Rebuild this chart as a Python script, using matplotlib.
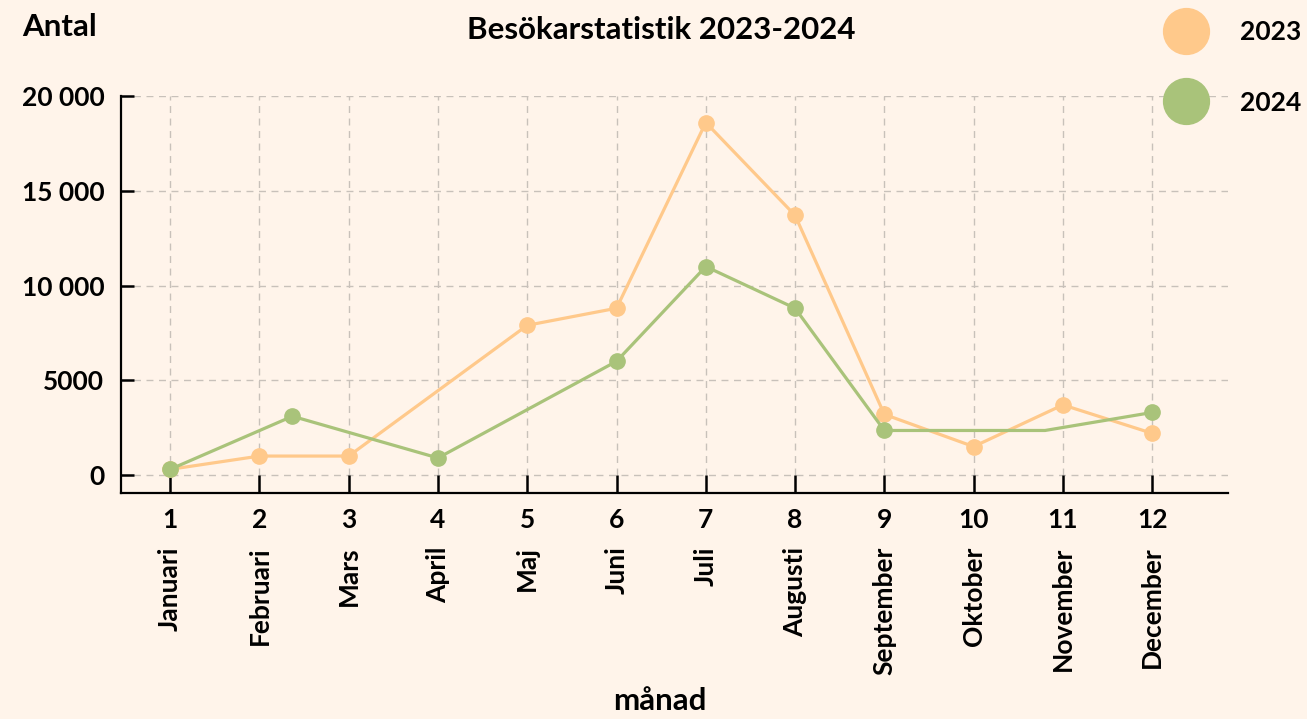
import matplotlib
matplotlib.use('Agg')
import matplotlib.pyplot as plt
from matplotlib.lines import Line2D

plt.rcParams['font.family'] = ['Lato', 'DejaVu Sans']
plt.rcParams['font.weight'] = 'bold'

# data
months = ['Januari', 'Februari', 'Mars', 'April', 'Maj', 'Juni', 'Juli',
          'Augusti', 'September', 'Oktober', 'November', 'December']
month_nums = list(range(1, 13))

x_2023 = [1, 2, 3, 5, 6, 7, 8, 9, 10, 11, 12]
y_2023 = [300, 1000, 1000, 7900, 8800, 18600, 13700, 3200, 1500, 3700, 2200]

x_2024 = [1, 2.37, 4, 6, 7, 8, 9, 10.8, 12]
y_2024 = [300, 3100, 900, 6000, 11000, 8800, 2350, 2350, 3300]
marks_2024 = [0, 1, 2, 3, 4, 5, 6, 8]

y_ticks = [0, 5000, 10000, 15000, 20000]
y_ticklabels = ['0', '5000', '10 000', '15 000', '20 000']

c2023 = '#ffc98b'
c2024 = '#a9c37a'
bg = '#fff4ea'
gridc = '#c8c1ba'

fig = plt.figure(figsize=(13.07, 7.19), dpi=100, facecolor=bg)
ax = fig.add_axes([0.0926, 0.3143, 0.847, 0.5522], facecolor=bg)

ax.set_xlim(0.45, 12.85)
ax.set_ylim(-950, 20000)

# grid
for yv in y_ticks:
    ax.axhline(yv, color=gridc, lw=1, ls=(0, (5, 4)), zorder=0)
ax.vlines(month_nums, 0, 20000, color=gridc, lw=1, linestyles=[(0, (5, 4))], zorder=0)

ax.plot(x_2023, y_2023, color=c2023, lw=2.3, marker='o', ms=11, zorder=3)
ax.plot(x_2024, y_2024, color=c2024, lw=2.3, marker='o', ms=11,
        markevery=marks_2024, zorder=4)

for s in ['top', 'right']:
    ax.spines[s].set_visible(False)
for s in ['left', 'bottom']:
    ax.spines[s].set_linewidth(1.6)
    ax.spines[s].set_color('black')

ax.set_xticks(month_nums)
ax.set_xticklabels([str(m) for m in month_nums])
ax.set_yticks(y_ticks)
ax.set_yticklabels(y_ticklabels)
ax.tick_params(axis='x', direction='in', length=13, width=1.8, pad=11, labelsize=19)
ax.tick_params(axis='y', direction='in', length=9, width=1.8, pad=12, labelsize=19)

for m, name in zip(month_nums, months):
    ax.text(m, -0.135, name, transform=ax.get_xaxis_transform(), rotation=90,
            ha='center', va='top', fontsize=19, fontweight='bold')

fig.text(22 / 1307, 1 - 27 / 719, 'Antal', fontsize=22.5, fontweight='bold',
         ha='left', va='center')
fig.text(661 / 1307, 1 - 30 / 719, 'Besökarstatistik 2023-2024', fontsize=22.5,
         fontweight='bold', ha='center', va='center')
fig.text(660 / 1307, 1 - 701 / 719, 'månad', fontsize=22.5, fontweight='bold',
         ha='center', va='center')

handles = [Line2D([], [], ls='none', marker='o', ms=33, color=c2023),
           Line2D([], [], ls='none', marker='o', ms=33, color=c2024)]
fig.legend(handles, ['2023', '2024'], loc='upper left',
           bbox_to_anchor=(1146 / 1307, 1 - 7 / 719), frameon=False,
           borderpad=0, handlelength=2, handletextpad=1.08, labelspacing=1.76,
           prop={'size': 19, 'weight': 'bold'})

fig.savefig('out.png', dpi=100, facecolor=bg)
